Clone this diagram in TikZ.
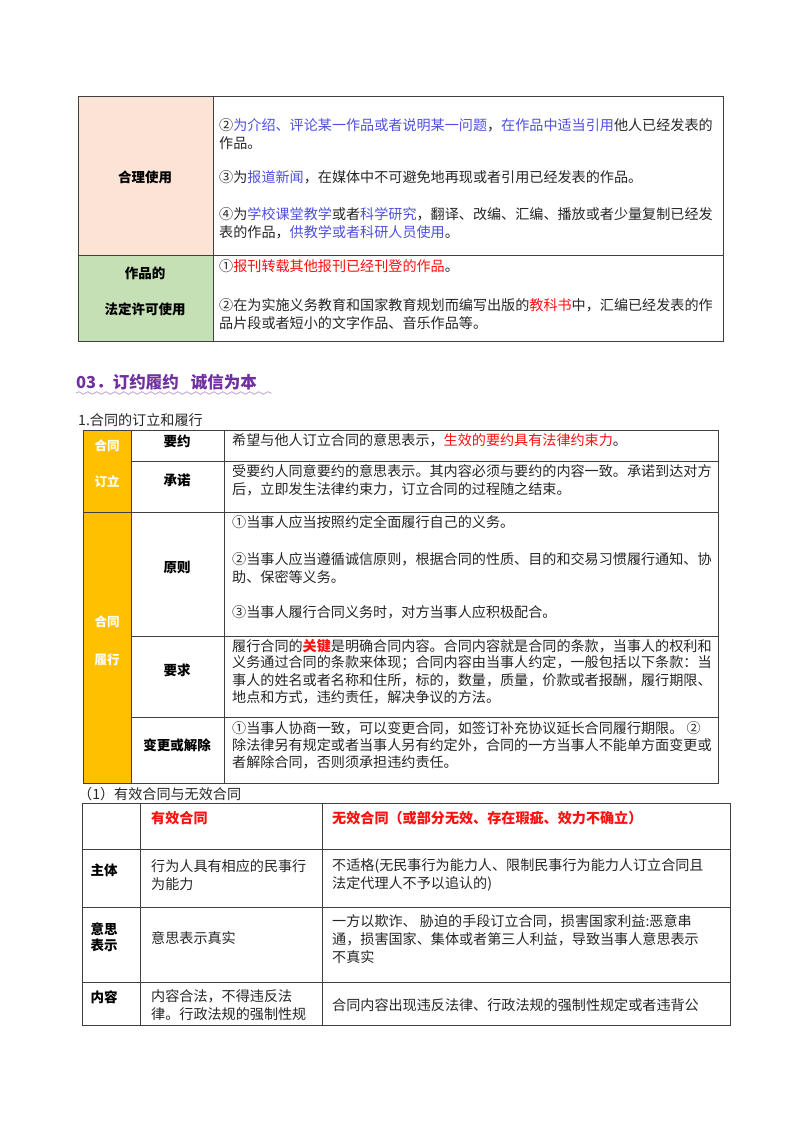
\documentclass[tikz,border=0pt]{standalone}
\usepackage{fontspec}
\setmainfont{Noto Sans CJK SC}
\usetikzlibrary{decorations.pathmorphing}
\definecolor{peach}{HTML}{FBE4D5}
\definecolor{lgreen}{HTML}{C5E0B4}
\definecolor{gold}{HTML}{FFC000}
\definecolor{bl}{HTML}{5050E0}
\definecolor{rd}{HTML}{FF1010}
\definecolor{pur}{HTML}{7030A0}
\definecolor{grid}{HTML}{404040}
\tikzset{
 txt/.style={anchor=west,inner sep=0pt,font=\fontsize{14.1}{17}\selectfont,text=black!85},
 lbl/.style={inner sep=0pt,font=\fontsize{13.5}{16}\selectfont\bfseries},
 wlbl/.style={inner sep=0pt,font=\fontsize{12.5}{15}\selectfont\bfseries,text=white},
 cell/.style={draw=grid,line width=0.9pt},
}
\begin{document}
\begin{tikzpicture}[x=1pt,y=-1pt]
\useasboundingbox (0,0) rectangle (800,1132);
\fill[white] (0,0) rectangle (800,1132);
% ---------- table 1
\fill[peach] (78,96) rectangle (213,255);
\fill[lgreen] (78,255) rectangle (213,341);
\draw[cell] (78,96) rectangle (723,341);
\draw[cell] (213,96) -- (213,341);
\draw[cell] (78,255) -- (723,255);
\node[lbl] (a1) at (145,177) {合理使用};
\node[lbl] (a2) at (145,273) {作品的};
\node[lbl] (a3) at (145,309) {法定许可使用};
\node[txt] (b1) at (219,125) {②\textcolor{bl}{为介绍、评论某一作品或者说明某一问题}，\textcolor{bl}{在作品中适当引用}他人已经发表的};
\node[txt] (b2) at (219,143) {作品。};
\node[txt] (b3) at (219,177) {③为\textcolor{bl}{报道新闻}，在媒体中不可避免地再现或者引用已经发表的作品。};
\node[txt] (b4) at (219,214) {④为\textcolor{bl}{学校课堂教学}或者\textcolor{bl}{科学研究}，翻译、改编、汇编、播放或者少量复制已经发};
\node[txt] (b5) at (219,232) {表的作品，\textcolor{bl}{供教学或者科研人员使用}。};
\node[txt] (b6) at (219,266) {①\textcolor{rd}{报刊转载其他报刊已经刊登的作品}。};
\node[txt] (b7) at (219,305) {②在为实施义务教育和国家教育规划而编写出版的\textcolor{rd}{教科书}中，汇编已经发表的作};
\node[txt] (b8) at (219,323) {品片段或者短小的文字作品、音乐作品等。};
% ---------- heading
\node[anchor=west,inner sep=0pt,font=\fontsize{16.5}{20}\selectfont\bfseries,text=pur] (h1) at (76,382) {03．订约履约\hspace{12pt}诚信为本};
\draw[pur!45,line width=0.8pt,decorate,decoration={snake,segment length=9pt,amplitude=1.3pt}] (76,393) -- (272,393);
\node[txt] (h2) at (78,420) {1.合同的订立和履行};
% ---------- table 2
\fill[gold] (83,430) rectangle (131,783);
\draw[cell] (83,430) rectangle (718,783);
\draw[cell] (131,430) -- (131,783);
\draw[cell] (224,430) -- (224,783);
\draw[cell] (131,461) -- (718,461);
\draw[cell] (83,512) -- (718,512);
\draw[cell] (131,636) -- (718,636);
\draw[cell] (131,717) -- (718,717);
\node[wlbl] (c1) at (107,446) {合同};
\node[wlbl] (c2) at (107,482) {订立};
\node[wlbl] (c3) at (107,622) {合同};
\node[wlbl] (c4) at (107,660) {履行};
\node[lbl] (d1) at (177,441) {要约};
\node[lbl] (d2) at (177,480) {承诺};
\node[lbl] (d3) at (177,567) {原则};
\node[lbl] (d4) at (177,670) {要求};
\node[lbl] (d5) at (177,745) {变更或解除};
\node[txt] (e1) at (232,440) {希望与他人订立合同的意思表示，\textcolor{rd}{生效的要约具有法律约束力}。};
\node[txt] (e2) at (232,471) {受要约人同意要约的意思表示。其内容必须与要约的内容一致。承诺到达对方};
\node[txt] (e3) at (232,489) {后，立即发生法律约束力，订立合同的过程随之结束。};
\node[txt] (e4) at (232,522) {①当事人应当按照约定全面履行自己的义务。};
\node[txt] (e5) at (232,559) {②当事人应当遵循诚信原则，根据合同的性质、目的和交易习惯履行通知、协};
\node[txt] (e6) at (232,577) {助、保密等义务。};
\node[txt] (e7) at (232,612) {③当事人履行合同义务时，对方当事人应积极配合。};
\node[txt] (e8) at (232,646) {履行合同的\textcolor{rd}{\bfseries 关键}是明确合同内容。合同内容就是合同的条款，当事人的权利和};
\node[txt] (e9) at (232,663) {义务通过合同的条款来体现；合同内容由当事人约定，一般包括以下条款：当};
\node[txt] (e10) at (232,680) {事人的姓名或者名称和住所，标的，数量，质量，价款或者报酬，履行期限、};
\node[txt] (e11) at (232,697) {地点和方式，违约责任，解决争议的方法。};
\node[txt] (e12) at (232,728) {①当事人协商一致，可以变更合同，如签订补充协议延长合同履行期限。 ②};
\node[txt] (e13) at (232,745) {除法律另有规定或者当事人另有约定外，合同的一方当事人不能单方面变更或};
\node[txt] (e14) at (232,762) {者解除合同，否则须承担违约责任。};
% ---------- table 3
\node[txt] (f0) at (78,794) {（1）有效合同与无效合同};
\draw[cell] (82,803) rectangle (730,1025);
\draw[cell] (140,803) -- (140,1025);
\draw[cell] (322,803) -- (322,1025);
\draw[cell] (82,849) -- (730,849);
\draw[cell] (82,907) -- (730,907);
\draw[cell] (82,982) -- (730,982);
\node[txt,text=rd,font=\fontsize{14.1}{17}\selectfont\bfseries] (g1) at (151,818) {有效合同};
\node[txt,text=rd,font=\fontsize{14.1}{17}\selectfont\bfseries] (g2) at (332,818) {无效合同（或部分无效、存在瑕疵、效力不确立）};
\node[lbl] (k1) at (104,870) {主体};
\node[lbl,align=center] (k2) at (104,937) {意思\\表示};
\node[lbl] (k3) at (104,997) {内容};
\node[txt] (m1) at (151,866) {行为人具有相应的民事行};
\node[txt] (m2) at (151,884) {为能力};
\node[txt] (m3) at (332,866) {不适格(无民事行为能力人、限制民事行为能力人订立合同且};
\node[txt] (m4) at (332,884) {法定代理人不予以追认的)};
\node[txt] (m5) at (151,938) {意思表示真实};
\node[txt] (m6) at (332,921) {一方以欺诈、 胁迫的手段订立合同，损害国家利益:恶意串};
\node[txt] (m7) at (332,939) {通，损害国家、集体或者第三人利益，导致当事人意思表示};
\node[txt] (m8) at (332,957) {不真实};
\node[txt] (m9) at (151,996) {内容合法，不得违反法};
\node[txt] (m10) at (151,1014) {律。行政法规的强制性规};
\node[txt] (m11) at (332,1005) {合同内容出现违反法律、行政法规的强制性规定或者违背公};
\end{tikzpicture}
\end{document}
